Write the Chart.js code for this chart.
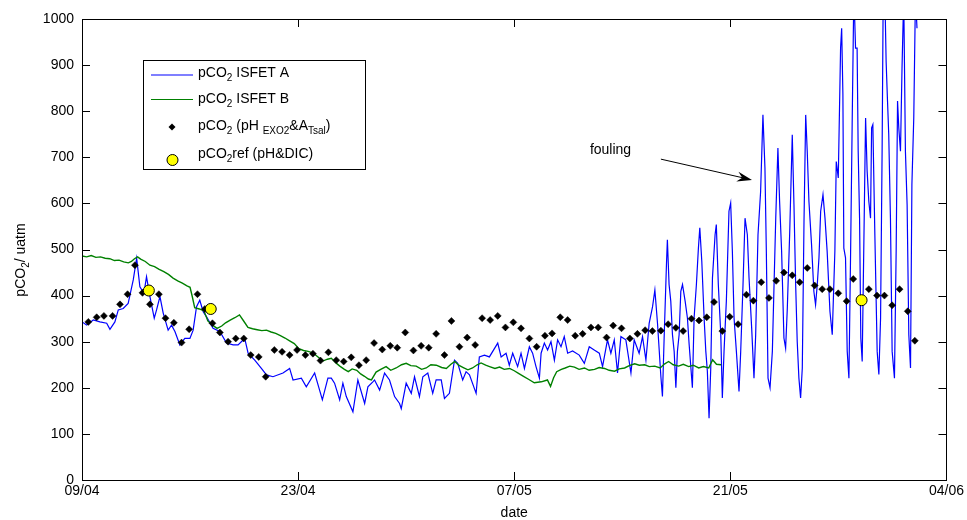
<!DOCTYPE html>
<html>
<head>
<meta charset="utf-8">
<script src="https://cdn.jsdelivr.net/npm/chart.js@4.4.0/dist/chart.umd.min.js"></script>
<style>
html, body { margin: 0; padding: 0; background: #fff; }
#wrap { width: 967px; height: 520px; }
</style>
</head>
<body>
<div id="wrap"><canvas id="chart" width="967" height="520"></canvas></div>
<script>
// x values are days after 09/04
const xTickDays = [0, 14, 28, 42, 56];
const xTickLabels = ['09/04', '23/04', '07/05', '21/05', '04/06'];

// pCO2 ISFET A (blue)
const blueDays = [
  0, 0.30, 0.73, 1.16, 1.60, 1.81, 2.13, 2.35, 2.67, 2.99, 3.32, 3.54, 3.75, 4.01, 4.18, 4.40, 4.68, 4.83, 5.05, 5.26,
  5.58, 5.80, 6.02, 6.34, 6.66, 6.99, 7.20, 7.42, 7.63, 7.85, 8.07, 8.49, 8.93, 9.36, 9.79, 10.11, 10.54, 10.76, 11.19, 11.62,
  11.95, 12.37, 13.02, 13.45, 13.67, 14.21, 14.53, 15.07, 15.39, 15.57, 15.93, 16.15, 16.36, 16.69, 16.90, 17.12, 17.55, 17.87, 18.31, 18.52,
  18.84, 18.95, 19.28, 19.60, 19.92, 20.25, 20.57, 20.68, 21.00, 21.33, 21.54, 21.86, 22.08, 22.40, 22.72, 22.94, 23.27, 23.48, 23.80, 24.13,
  24.34, 24.66, 24.88, 25.10, 25.53, 25.74, 26.07, 26.39, 26.93, 27.15, 27.47, 27.68, 27.90, 28.22, 28.44, 28.66, 28.98, 29.19, 29.41, 29.63,
  29.74, 29.95, 30.16, 30.38, 30.60, 30.81, 31.03, 31.24, 31.46, 31.78, 32.21, 32.54, 32.86, 33.18, 33.51, 33.72, 34.04, 34.26, 34.48, 34.69,
  34.91, 35.23, 35.56, 35.77, 36.09, 36.31, 36.53, 36.74, 36.96, 37.11, 37.28, 37.50, 37.60, 37.71, 37.86, 37.92, 38.03, 38.14, 38.25, 38.36,
  38.47, 38.57, 38.68, 38.79, 38.90, 39.07, 39.22, 39.33, 39.54, 39.65, 39.80, 39.93, 40.02, 40.15, 40.30, 40.41, 40.51, 40.62, 40.73, 40.84,
  41.01, 41.09, 41.22, 41.38, 41.48, 41.59, 41.74, 41.91, 42.02, 42.13, 42.24, 42.39, 42.56, 42.67, 42.82, 42.95, 43.10, 43.21, 43.38, 43.53,
  43.64, 43.79, 43.96, 44.11, 44.24, 44.33, 44.44, 44.57, 44.72, 44.83, 44.94, 45.08, 45.19, 45.32, 45.47, 45.58, 45.69, 45.84, 46.01, 46.12,
  46.23, 46.33, 46.44, 46.55, 46.66, 46.77, 46.88, 46.98, 47.09, 47.26, 47.41, 47.52, 47.63, 47.74, 47.85, 48.00, 48.13, 48.27, 48.45, 48.60,
  48.77, 48.86, 48.99, 49.14, 49.21, 49.29, 49.35, 49.46, 49.57, 49.68, 49.79, 49.89, 50.00, 50.11, 50.21, 50.28, 50.37, 50.45, 50.54, 50.67,
  50.76, 50.86, 50.97, 51.08, 51.15, 51.23, 51.36, 51.51, 51.62, 51.73, 51.83, 51.90, 52.01, 52.09, 52.18, 52.26, 52.37, 52.48, 52.63, 52.74,
  52.83, 52.91, 53.02, 53.12, 53.23, 53.34, 53.45, 53.56, 53.67, 53.76, 53.88, 53.99, 54.09
];
const blueValues = [
  343, 336, 347, 343, 340, 327, 343, 369, 372, 383, 434, 481, 419, 405, 441, 398, 351, 369, 398, 362,
  325, 336, 322, 293, 307, 307, 325, 376, 390, 365, 354, 329, 322, 297, 293, 293, 307, 275, 260, 242,
  228, 224, 232, 242, 217, 221, 202, 232, 195, 174, 221, 221, 210, 174, 210, 181, 148, 217, 166, 202,
  213, 217, 195, 232, 217, 181, 166, 155, 210, 188, 224, 181, 224, 232, 188, 217, 217, 177, 188, 260,
  253, 217, 235, 228, 188, 267, 271, 267, 297, 267, 275, 249, 275, 246, 275, 242, 289, 275, 246, 221,
  275, 297, 282, 300, 260, 304, 289, 311, 275, 280, 271, 253, 289, 282, 275, 246, 304, 275, 304, 232,
  311, 304, 232, 304, 275, 311, 260, 340, 376, 412, 340, 224, 181, 308, 467, 521, 424, 388, 315, 279,
  200, 279, 315, 409, 424, 388, 351, 294, 200, 351, 424, 503, 547, 474, 351, 279, 236, 134, 243, 438,
  532, 554, 424, 315, 178, 279, 388, 583, 601, 496, 351, 279, 192, 279, 424, 568, 532, 438, 330, 221,
  315, 532, 626, 792, 677, 496, 221, 200, 279, 424, 568, 720, 604, 496, 308, 286, 373, 532, 749, 597,
  424, 301, 221, 178, 243, 560, 792, 713, 604, 510, 409, 380, 424, 482, 583, 619, 568, 496, 366, 315,
  496, 691, 655, 937, 980, 836, 503, 482, 279, 221, 496, 771, 1060, 937, 937, 713, 568, 308, 257, 568,
  785, 670, 604, 568, 764, 771, 532, 279, 229, 351, 713, 1050, 1050, 908, 822, 749, 568, 279, 221, 496,
  822, 764, 713, 894, 1050, 713, 597, 315, 243, 641, 785, 1050, 980
];

// pCO2 ISFET B (green)
const greenDays = [
  0.0, 0.3, 0.6, 0.9, 1.2, 1.5, 1.8, 2.1, 2.4, 2.7, 3.0, 3.2, 3.4, 3.6, 3.8, 4.1, 4.4, 4.7, 5.0, 5.3,
  5.6, 5.9, 6.2, 6.5, 6.8, 7.0, 7.15, 7.3, 7.6, 7.9, 8.15, 8.45, 8.75, 9.05, 9.3, 9.6, 9.9, 10.2, 10.45, 10.75,
  11.05, 11.35, 11.65, 11.95, 12.25, 12.55, 12.85, 13.15, 13.45, 13.75, 14.05, 14.35, 14.65, 14.95, 15.25, 15.6, 15.9, 16.15, 16.45, 16.7,
  17.0, 17.25, 17.5, 17.8, 18.05, 18.3, 18.55, 18.75, 19.05, 19.35, 19.7, 20.0, 20.35, 20.7, 21.0, 21.3, 21.65, 22.0, 22.3, 22.6,
  22.95, 23.3, 23.6, 23.9, 24.15, 24.4, 24.7, 25.0, 25.3, 25.6, 25.85, 26.15, 26.4, 26.75, 27.05, 27.35, 27.7, 28.0, 28.25, 28.6,
  28.95, 29.3, 29.75, 30.15, 30.35, 30.55, 30.75, 31.05, 31.3, 31.6, 31.9, 32.2, 32.55, 32.85, 33.2, 33.5, 33.85, 34.15, 34.5, 34.8,
  35.15, 35.45, 35.8, 36.1, 36.45, 36.75, 37.1, 37.45, 37.75, 38.0, 38.3, 38.65, 38.95, 39.3, 39.6, 39.95, 40.25, 40.6, 40.85, 41.1, 41.4
];
const greenValues = [
  486, 484, 487, 483, 484, 481, 480, 476, 477, 473, 471, 474, 480, 484, 479, 474, 466, 463, 457, 452,
  446, 438, 432, 427, 421, 418, 397, 374, 371, 367, 345, 336, 329, 334, 341, 347, 352, 358, 346, 331,
  328, 326, 324, 325, 321, 318, 313, 308, 302, 296, 285, 281, 279, 276, 268, 258, 262, 264, 254, 247,
  240, 235, 241, 238, 230, 225, 219, 217, 234, 240, 246, 238, 243, 250, 253, 248, 247, 240, 243, 250,
  249, 244, 242, 251, 257, 249, 244, 239, 243, 250, 254, 249, 246, 242, 245, 240, 242, 237, 232, 225,
  218, 211, 213, 217, 203, 222, 235, 240, 243, 247, 245, 240, 243, 238, 240, 244, 242, 238, 236, 241,
  243, 248, 252, 249, 250, 246, 247, 243, 252, 257, 250, 247, 251, 246, 249, 243, 246, 243, 261, 251, 250
];

// pCO2 from pH EXO2 & A_Tsal (black diamonds)
const diamondDays = [
  0.41, 0.95, 1.42, 1.98, 2.46, 2.95, 3.43, 3.92, 4.40, 4.98, 5.41, 5.95, 6.45, 6.94, 7.48, 7.96, 8.45, 8.93, 9.46, 9.96,
  10.48, 10.93, 11.45, 11.90, 12.46, 12.96, 13.45, 13.93, 14.47, 14.96, 15.45, 15.96, 16.47, 16.95, 17.44, 17.94, 18.41, 18.92, 19.45, 19.97,
  20.42, 20.94, 21.47, 21.97, 22.46, 22.94, 23.48, 23.93, 24.45, 24.95, 25.47, 25.92, 26.44, 26.93, 27.43, 27.94, 28.44, 28.98, 29.45, 29.99,
  30.45, 30.98, 31.46, 31.95, 32.43, 32.97, 33.44, 33.98, 34.41, 34.95, 35.49, 35.98, 36.48, 36.95, 37.50, 37.97, 38.47, 38.94, 39.48, 39.97,
  40.47, 40.94, 41.48, 41.96, 42.50, 43.04, 43.49, 44.00, 44.50, 44.97, 45.47, 46.01, 46.49, 46.98, 47.46, 47.95, 48.45, 48.99, 49.53, 49.96,
  50.47, 50.97, 51.50, 51.98, 52.48, 52.96, 53.49, 53.95
];
const diamondValues = [
  343, 353, 356, 356, 381, 403, 466, 406, 381, 403, 351, 341, 298, 327, 403, 371, 340, 320, 300, 307,
  307, 271, 267, 224, 282, 278, 271, 282, 271, 274, 259, 277, 260, 257, 266, 249, 260, 297, 283, 291,
  287, 320, 281, 291, 287, 317, 271, 345, 289, 309, 293, 351, 347, 356, 331, 342, 329, 307, 289, 313,
  318, 353, 347, 313, 317, 331, 331, 309, 335, 329, 307, 317, 325, 323, 324, 338, 330, 323, 350, 346,
  353, 386, 323, 354, 338, 402, 389, 429, 395, 432, 450, 444, 429, 460, 422, 414, 414, 405, 388, 436,
  390, 414, 400, 400, 379, 414, 366, 302
];

// pCO2 ref from pH & DIC (yellow)
const refDays = [4.33, 8.34, 50.5];
const refValues = [411, 371, 390];

const toPoints = (xs, ys) => xs.map((x, i) => ({ x: x, y: ys[i] }));

const FONT = '"Liberation Sans", Arial, sans-serif';

// text with subscripts: parts = [[text, isSub], ...]
function richWidth(ctx, parts, size, subSize) {
  let w = 0;
  parts.forEach(p => {
    ctx.font = (p[1] ? subSize : size) + 'px ' + FONT;
    w += ctx.measureText(p[0]).width;
  });
  return w;
}
function drawRich(ctx, x, y, parts, size, subSize, subDrop) {
  parts.forEach(p => {
    ctx.font = (p[1] ? subSize : size) + 'px ' + FONT;
    ctx.fillText(p[0], x, p[1] ? y + subDrop : y);
    x += ctx.measureText(p[0]).width;
  });
}

const framePlugin = {
  id: 'frame',
  afterDraw(chart) {
    const ctx = chart.ctx;
    const a = chart.chartArea;
    const xs = chart.scales.x, ys = chart.scales.y;
    ctx.save();
    ctx.strokeStyle = '#000';
    ctx.lineWidth = 1;
    ctx.strokeRect(Math.round(a.left) + 0.5, Math.round(a.top) + 0.5,
      Math.round(a.right - a.left), Math.round(a.bottom - a.top));

    // inward ticks on all four sides
    ctx.beginPath();
    xTickDays.forEach(d => {
      const px = Math.round(xs.getPixelForValue(d)) + 0.5;
      ctx.moveTo(px, a.bottom); ctx.lineTo(px, a.bottom - 8);
      ctx.moveTo(px, a.top); ctx.lineTo(px, a.top + 8);
    });
    ys.ticks.forEach(t => {
      const py = Math.round(ys.getPixelForValue(t.value)) + 0.5;
      ctx.moveTo(a.left, py); ctx.lineTo(a.left + 8, py);
      ctx.moveTo(a.right, py); ctx.lineTo(a.right - 8, py);
    });
    ctx.stroke();

    // axis titles
    ctx.fillStyle = '#000';
    ctx.textBaseline = 'alphabetic';
    ctx.font = '14px ' + FONT;
    ctx.textAlign = 'center';
    ctx.fillText('date', (a.left + a.right) / 2, 517);
    ctx.textAlign = 'left';
    const yTitle = [['pCO', false], ['2', true], ['/ uatm', false]];
    ctx.save();
    ctx.translate(25, 260);
    ctx.rotate(-Math.PI / 2);
    const tw = richWidth(ctx, yTitle, 14, 10);
    drawRich(ctx, -tw / 2, 0, yTitle, 14, 10, 4);
    ctx.restore();

    // "fouling" annotation with arrow
    ctx.font = '14px ' + FONT;
    ctx.textBaseline = 'middle';
    ctx.fillText('fouling', xs.getPixelForValue(32.9), ys.getPixelForValue(716));
    const x0 = xs.getPixelForValue(37.5), y0 = ys.getPixelForValue(696);
    const x1 = xs.getPixelForValue(43.4), y1 = ys.getPixelForValue(651);
    const ang = Math.atan2(y1 - y0, x1 - x0);
    ctx.beginPath();
    ctx.moveTo(x0, y0);
    ctx.lineTo(x1 - 10 * Math.cos(ang), y1 - 10 * Math.sin(ang));
    ctx.stroke();
    ctx.save();
    ctx.translate(x1, y1);
    ctx.rotate(ang);
    ctx.beginPath();
    ctx.moveTo(0, 0);
    ctx.lineTo(-15, -5);
    ctx.lineTo(-10, 0);
    ctx.lineTo(-15, 5);
    ctx.closePath();
    ctx.fillStyle = '#000';
    ctx.fill();
    ctx.restore();

    // legend box
    ctx.fillStyle = '#fff';
    ctx.fillRect(143.5, 60.5, 222, 109);
    ctx.strokeRect(143.5, 60.5, 222, 109);
    ctx.lineWidth = 1.2;
    ctx.strokeStyle = '#0000ff';
    ctx.beginPath(); ctx.moveTo(151, 75); ctx.lineTo(193, 75); ctx.stroke();
    ctx.strokeStyle = '#008000';
    ctx.beginPath(); ctx.moveTo(151, 99.5); ctx.lineTo(193, 99.5); ctx.stroke();
    ctx.fillStyle = '#000';
    ctx.beginPath();
    ctx.moveTo(172, 123.5); ctx.lineTo(175.5, 127); ctx.lineTo(172, 130.5); ctx.lineTo(168.5, 127);
    ctx.closePath(); ctx.fill();
    ctx.beginPath();
    ctx.arc(172.5, 160, 5.5, 0, Math.PI * 2);
    ctx.fillStyle = '#ffff00'; ctx.fill();
    ctx.strokeStyle = '#000'; ctx.lineWidth = 1; ctx.stroke();

    ctx.fillStyle = '#000';
    ctx.textBaseline = 'alphabetic';
    ctx.textAlign = 'left';
    const rows = [
      [77, [['pCO', false], ['2', true], [' ISFET A', false]]],
      [103, [['pCO', false], ['2', true], [' ISFET B', false]]],
      [129.5, [['pCO', false], ['2', true], [' (pH ', false], ['EXO2', true], ['&A', false], ['Tsal', true], [')', false]]],
      [158, [['pCO', false], ['2', true], ['ref (pH&DIC)', false]]]
    ];
    rows.forEach(r => drawRich(ctx, 198, r[0], r[1], 14, 10, 4));
    ctx.restore();
  }
};

new Chart(document.getElementById('chart').getContext('2d'), {
  type: 'scatter',
  data: {
    datasets: [
      {
        label: 'pCO2ref (pH&DIC)',
        data: toPoints(refDays, refValues),
        pointStyle: 'circle',
        pointRadius: 5.5,
        backgroundColor: '#ffff00',
        borderColor: '#000',
        borderWidth: 1,
        order: 0
      },
      {
        label: 'pCO2 (pH EXO2 & A Tsal)',
        data: toPoints(diamondDays, diamondValues),
        pointStyle: 'rectRot',
        pointRadius: 3.5,
        backgroundColor: '#000',
        borderColor: '#000',
        borderWidth: 0.5,
        order: 1
      },
      {
        label: 'pCO2 ISFET B',
        data: toPoints(greenDays, greenValues),
        showLine: true,
        pointRadius: 0,
        borderColor: '#008000',
        borderWidth: 1.4,
        tension: 0,
        order: 2
      },
      {
        label: 'pCO2 ISFET A',
        data: toPoints(blueDays, blueValues),
        showLine: true,
        pointRadius: 0,
        borderColor: '#0000ff',
        borderWidth: 1.2,
        tension: 0,
        order: 3
      }
    ]
  },
  options: {
    responsive: false,
    animation: false,
    layout: { padding: { top: 19, right: 19, left: 0, bottom: 0 } },
    plugins: { legend: { display: false }, tooltip: { enabled: false } },
    scales: {
      x: {
        type: 'linear',
        min: 0,
        max: 56,
        afterBuildTicks: s => { s.ticks = xTickDays.map(v => ({ value: v })); },
        afterFit: s => { s.height = 40; },
        ticks: {
          callback: (v, i) => xTickLabels[i],
          font: { family: FONT, size: 14 },
          color: '#000',
          padding: 3,
          maxRotation: 0,
          autoSkip: false
        },
        grid: { drawOnChartArea: false, drawTicks: false },
        border: { color: '#000', width: 1 }
      },
      y: {
        min: 0,
        max: 1000,
        afterFit: s => { s.width = 82; },
        ticks: {
          stepSize: 100,
          callback: v => String(v),
          font: { family: FONT, size: 14 },
          color: '#000',
          padding: 8
        },
        grid: { drawOnChartArea: false, drawTicks: false },
        border: { color: '#000', width: 1 }
      }
    }
  },
  plugins: [framePlugin]
});
</script>
</body>
</html>
